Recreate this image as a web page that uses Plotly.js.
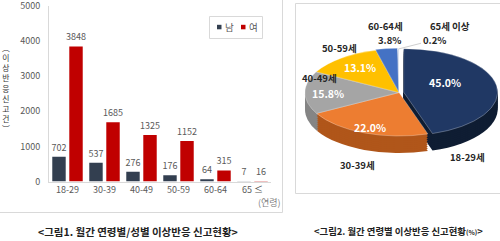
<!DOCTYPE html>
<html><head><meta charset="utf-8">
<script src="https://cdn.plot.ly/plotly-3.0.1.min.js"></script>
<style>html,body{margin:0;padding:0;background:#fff;} #chart{width:500px;height:241px;}</style>
</head><body><div id="chart"></div>
<script>
// ---- data ----
const ageGroups = ['18-29', '30-39', '40-49', '50-59', '60-64', '65 ≤'];
const maleCounts = [702, 537, 276, 176, 64, 7];
const femaleCounts = [3848, 1685, 1325, 1152, 315, 16];
const yTicks = [0, 1000, 2000, 3000, 4000, 5000];
const pieLabels = ['18-29세', '30-39세', '40-49세', '50-59세', '60-64세', '65세 이상'];
const seriesNames = ['남', '여'];

// ---- derived ----
const pieValues = maleCounts.map((m, i) => m + femaleCounts[i]);
const total = pieValues.reduce((a, b) => a + b, 0);
const pctText = pieValues.map(v => (v / total * 100).toFixed(1) + '%');

// ---- styling / layout helpers ----
const W = 500, H = 241;
const px = x => x / W, py = y => 1 - y / H;
const FONT = '"Noto Sans CJK KR", "Noto Sans", sans-serif';
const maleColor = '#333f50', femaleColor = '#c00000';
const topColors = ['#203864', '#ed7d31', '#a5a5a5', '#ffc000', '#4472c4', '#cfdaeb'];
const sideColors = ['#0f1d33', '#b0561a', '#858585', '#c29200', '#2c518f', '#9aaac4'];
const pullArr = [0.05, 0, 0, 0, 0.02, 0];
const ellipse = {cx: 399, cy: 92.5, rx: 94, ry: 43.5};
const pieOffsets = [17, 15, 13, 11, 9, 7, 5, 3, 1.5, 0];
const pctPos = [[445, 82], [370, 127], [328, 94], [360, 67], [389, 40], [434, 40]];
const namePos = [[467, 157], [357, 165], [319, 78.5], [339, 48], [385, 26], [450, 26]];

const data = [
  {type: 'bar', name: seriesNames[0], x: ageGroups, y: maleCounts, marker: {color: maleColor},
   text: maleCounts.map(String), textposition: 'outside', cliponaxis: false, constraintext: 'none',
   textfont: {size: 9, color: '#595959', family: FONT}, showlegend: false, hoverinfo: 'skip'},
  {type: 'bar', name: seriesNames[1], x: ageGroups, y: femaleCounts, marker: {color: femaleColor},
   text: femaleCounts.map(String), textposition: 'outside', cliponaxis: false, constraintext: 'none',
   textfont: {size: 9, color: '#595959', family: FONT}, showlegend: false, hoverinfo: 'skip'}
];
pieOffsets.forEach((off, k) => {
  const isTop = off === 0;
  data.push({
    type: 'pie', values: pieValues, labels: pieLabels, sort: false, direction: 'clockwise', rotation: 0,
    pull: pullArr, textinfo: 'none', hoverinfo: 'skip', showlegend: false,
    marker: {colors: isTop ? topColors : sideColors,
             line: {width: isTop ? 0.8 : 0, color: 'rgba(255,255,255,0.45)'}},
    domain: {x: [0.6, 0.98], y: [0.2, 0.98]}
  });
});

const ann = (x, y, text, font, extra) => Object.assign({xref: 'paper', yref: 'paper', x: px(x), y: py(y),
  xanchor: 'center', yanchor: 'middle', showarrow: false, text: text, font: font}, extra || {});

const annotations = [];
// y-axis title (vertical stacked)
annotations.push(ann(6, 88, '︵<br>이<br>상<br>반<br>응<br>신<br>고<br>건<br>︶',
  {size: 7.8, color: '#333333', family: FONT}));
annotations.push(ann(269, 202, '(연령)', {size: 9, color: '#7f7f7f', family: FONT}));
// legend text
annotations.push(ann(229, 27, seriesNames[0], {size: 9.5, color: '#595959', family: FONT}));
annotations.push(ann(253, 27, seriesNames[1], {size: 9.5, color: '#595959', family: FONT}));
// captions
annotations.push(ann(137.5, 231, '&lt;그림1. 월간 연령별/성별 이상반응 신고현황&gt;',
  {size: 10.5, color: '#222', family: FONT, weight: 'bold'}));
annotations.push(ann(398, 231, '&lt;그림2. 월간 연령별 이상반응 신고현황<span style="font-size:6.5px">(%)</span>&gt;',
  {size: 9.4, color: '#222', family: FONT, weight: 'bold'}));
// pie labels
const midAngles = [];
{ let acc = 0; pieValues.forEach(v => { midAngles.push((acc + v / 2) / total * 2 * Math.PI); acc += v; }); }
pieValues.forEach((v, i) => {
  const inside = v / total > 0.05;
  annotations.push(ann(namePos[i][0], namePos[i][1], '<b>' + pieLabels[i] + '</b>',
    {size: 9.5, color: '#262626', family: FONT}));
  const font = {size: inside ? 10.5 : 9.5, color: inside ? '#ffffff' : '#262626', family: FONT};
  if (!inside && i === pieValues.length - 1) {
    const tipX = ellipse.cx + ellipse.rx * Math.sin(midAngles[i]);
    const tipY = ellipse.cy - ellipse.ry * Math.cos(midAngles[i]);
    annotations.push(ann(tipX, tipY, '<b>' + pctText[i] + '</b>', font,
      {showarrow: true, arrowhead: 0, arrowwidth: 1, arrowcolor: '#cfcfcf',
       ax: pctPos[i][0] - tipX, ay: pctPos[i][1] - tipY, standoff: 0}));
  } else {
    annotations.push(ann(pctPos[i][0], pctPos[i][1], '<b>' + pctText[i] + '</b>', font));
  }
});

const grid = '#d9d9d9';
const shapes = [
  {type: 'line', xref: 'paper', yref: 'paper', x0: px(282.5), x1: px(282.5), y0: py(0), y1: py(212.5), line: {color: grid, width: 1}},
  {type: 'line', xref: 'paper', yref: 'paper', x0: px(0), x1: px(282.5), y0: py(212.5), y1: py(212.5), line: {color: grid, width: 1}},
  {type: 'rect', xref: 'paper', yref: 'paper', x0: px(295.5), x1: px(510), y0: py(3.5), y1: py(193.5), line: {color: grid, width: 1}},
  {type: 'rect', xref: 'paper', yref: 'paper', x0: px(209.5), x1: px(262.5), y0: py(16.5), y1: py(38.5), line: {color: grid, width: 1}},
  {type: 'rect', xref: 'paper', yref: 'paper', x0: px(217), x1: px(221.5), y0: py(24.8), y1: py(29.3), line: {width: 0}, fillcolor: maleColor},
  {type: 'rect', xref: 'paper', yref: 'paper', x0: px(241), x1: px(245.5), y0: py(24.8), y1: py(29.3), line: {width: 0}, fillcolor: femaleColor}
];

const layout = {
  width: W, height: H, autosize: false,
  margin: {l: 0, r: 0, t: 0, b: 0},
  paper_bgcolor: '#fff', plot_bgcolor: '#fff',
  font: {family: FONT, color: '#595959'},
  barmode: 'group', bargap: 0.08, bargroupgap: 0.21,
  showlegend: false,
  xaxis: {domain: [px(49), px(271)], type: 'category', showline: true, linecolor: grid, linewidth: 1,
          ticks: '', tickfont: {size: 9, color: '#595959'}, automargin: false, fixedrange: true,
          ticklabeloverflow: 'allow'},
  yaxis: {domain: [py(181.5), py(6)], range: [0, 5000], tickvals: yTicks, showgrid: false, zeroline: false,
          showline: true, linecolor: grid, linewidth: 1, ticks: '', ticklabelstandoff: 6,
          ticklabeloverflow: 'allow',
          tickfont: {size: 9, color: '#595959'}, automargin: false, fixedrange: true},
  annotations: annotations,
  shapes: shapes
};

Plotly.newPlot('chart', data, layout, {staticPlot: true, displayModeBar: false}).then(gd => {
  const groups = gd.querySelectorAll('.pielayer .trace');
  const pieIdx = data.map((t, i) => t.type === 'pie' ? i : -1).filter(i => i >= 0);
  groups.forEach((g, k) => {
    const cd0 = gd.calcdata[pieIdx[k]][0];
    const cx = cd0.cx, cy = cd0.cy, r = cd0.r;
    if (!(r > 0)) return;
    const off = pieOffsets[k];
    g.setAttribute('transform',
      `translate(${ellipse.cx},${ellipse.cy + off}) scale(${ellipse.rx / r},${ellipse.ry / r}) translate(${-cx},${-cy})`);
  });
});
</script>
</body></html>
